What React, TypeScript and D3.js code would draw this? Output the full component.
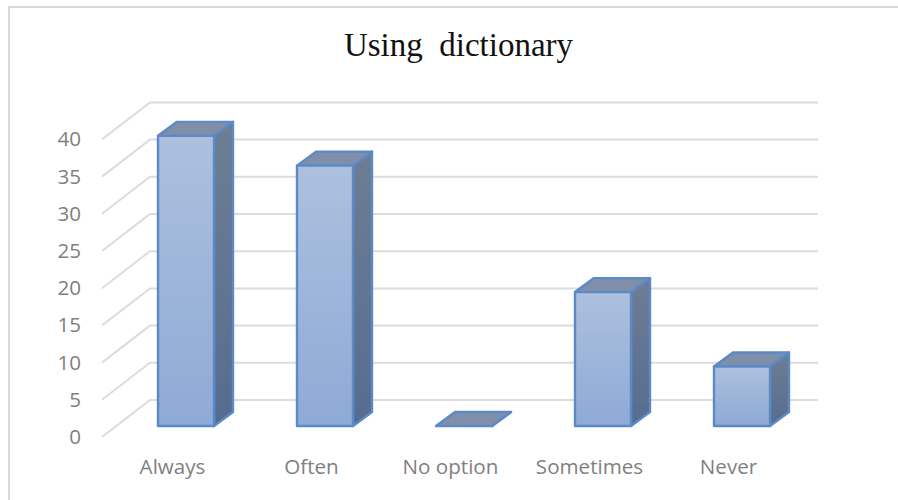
import React from "react";
import * as d3 from "d3";

const categories = ["Always", "Often", "No option", "Sometimes", "Never"];
const values = [39, 35, 0, 18, 8];
const axisTicks = [0, 5, 10, 15, 20, 25, 30, 35, 40];
const titleText = "Using\u00a0 dictionary";

const W = 898;
const H = 500;
// Pseudo-3D projection offsets
const barDepthX = 19;
const barDepthY = 14;
const wallDepthX = 48;
const wallDepthY = 37;

export default function App() {
  const unit = d3.scaleLinear().domain([0, 40]).range([0, 297.6]);
  const x = d3
    .scalePoint<string>()
    .domain(categories)
    .range([186, 742]);
  const barW = 56;
  const baseY = 426;
  const frontFloor = 437;
  const wallLeft = 102 + wallDepthX;

  return (
    <svg
      width={W}
      height={H}
      viewBox={`0 0 ${W} ${H}`}
      style={{ position: "absolute", left: 0, top: 0, background: "#fff" }}
    >
      <defs>
        <linearGradient id="front" x1="0" y1="0" x2="0" y2="1">
          <stop offset="0" stopColor="#adc0de" />
          <stop offset="1" stopColor="#8eaad6" />
        </linearGradient>
        <linearGradient id="side" x1="0" y1="0" x2="0" y2="1">
          <stop offset="0" stopColor="#6e7d95" />
          <stop offset="1" stopColor="#566c8f" />
        </linearGradient>
        <filter id="soft" x="-5%" y="-5%" width="110%" height="110%">
          <feGaussianBlur stdDeviation="0.5" />
        </filter>
      </defs>

      {/* Chart frame: only the top and left edges are drawn */}
      <path d="M9,500L9,7L898,7" fill="none" stroke="#d9d9d9" strokeWidth={2} />

      <text
        x={458.5}
        y={56}
        textAnchor="middle"
        fontFamily="'Liberation Serif', serif"
        fontSize={33}
        fill="#111"
      >
        {titleText}
      </text>

      <g filter="url(#soft)">
        {axisTicks.map((t) => {
          const back = frontFloor - wallDepthY - unit(t);
          const front = frontFloor - unit(t);
          return (
            <path
              key={t}
              d={`M102,${front}L${wallLeft},${back}L818,${back}`}
              fill="none"
              stroke="#dcdcdc"
              strokeWidth={2}
            />
          );
        })}

        {categories.map((c, i) => {
          const h = unit(values[i]);
          const left = x(c)! - barW / 2;
          const right = left + barW;
          const top = baseY - h;
          const edge = { stroke: "#5b8ac6", strokeWidth: 2.4, strokeLinejoin: "round" as const };
          return (
            <g key={c}>
              <path
                d={`M${right},${top}L${right + barDepthX},${top - barDepthY}L${right + barDepthX},${baseY - barDepthY}L${right},${baseY}Z`}
                fill="url(#side)"
                {...edge}
              />
              <path
                d={`M${left},${top}L${left + barDepthX},${top - barDepthY}L${right + barDepthX},${top - barDepthY}L${right},${top}Z`}
                fill="#7f8fa9"
                {...edge}
              />
              {h > 0 && <rect x={left} y={top} width={barW} height={h} fill="url(#front)" {...edge} />}
            </g>
          );
        })}
      </g>

      <g fontFamily="'Open Sans', sans-serif" fontSize={20.6} fill="#7f7f7f">
        {axisTicks.map((t) => (
          <text key={t} x={81} y={frontFloor - unit(t) + 7} textAnchor="end">
            {t}
          </text>
        ))}
        {categories.map((c) => (
          <text key={c} x={x(c)! - 13.5} y={474} textAnchor="middle">
            {c}
          </text>
        ))}
      </g>
    </svg>
  );
}
